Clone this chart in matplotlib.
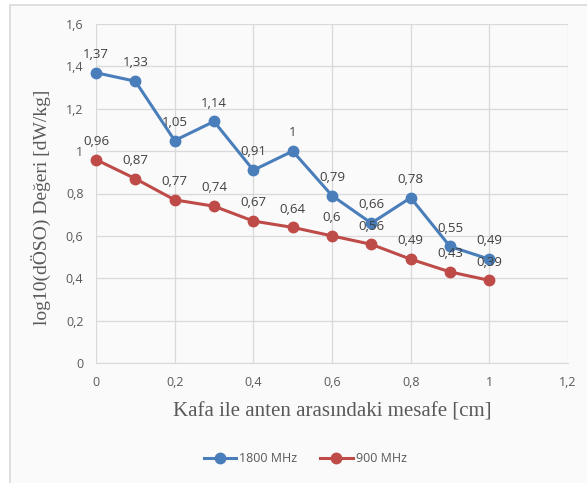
import matplotlib
matplotlib.use('Agg')
import matplotlib.pyplot as plt
from matplotlib.patches import Rectangle
from matplotlib.ticker import FuncFormatter

# mesafe [cm]
mesafe = [0, 0.1, 0.2, 0.3, 0.4, 0.5, 0.6, 0.7, 0.8, 0.9, 1.0]
sar_1800 = [1.37, 1.33, 1.05, 1.14, 0.91, 1.00, 0.79, 0.66, 0.78, 0.55, 0.49]
sar_900 = [0.96, 0.87, 0.77, 0.74, 0.67, 0.64, 0.60, 0.56, 0.49, 0.43, 0.39]
seriler = ['1800 MHz', '900 MHz']
renkler = ['#4a7ebb', '#be4b48']

bg = '#fafafa'
W, H = 587, 483
sans = 'Open Sans'

fig = plt.figure(figsize=(W / 100, H / 100), dpi=100)
fig.patch.set_facecolor('white')
# chart frame
fig.patches.append(Rectangle((10 / W, -0.05), 1.1, 1 - 5 / H + 0.05,
                             transform=fig.transFigure, facecolor=bg,
                             edgecolor='#d9d9d9', linewidth=1.2, zorder=-10))

ax = fig.add_axes([96 / W, 1 - 363 / H, (568 - 96) / W, (363 - 24) / H])
ax.set_facecolor(bg)

virgul = FuncFormatter(lambda v, p: ('%g' % round(v, 2)).replace('.', ','))

for y, ad, renk in zip([sar_1800, sar_900], seriler, renkler):
    ax.plot(mesafe, y, color=renk, lw=2.2, marker='o', ms=7.5, label=ad,
            zorder=3, clip_on=False)
    for xi, yi in zip(mesafe, y):
        ax.annotate(virgul(yi), (xi, yi), xytext=(0, 8.5), textcoords='offset points',
                    ha='center', va='bottom', fontsize=9.5, color='#404040',
                    family=sans, zorder=4)

ax.set_xlim(0, 1.2)
ax.set_ylim(0, 1.6)
ax.set_xticks([0, 0.2, 0.4, 0.6, 0.8, 1.0, 1.2])
ax.set_yticks([0, 0.2, 0.4, 0.6, 0.8, 1.0, 1.2, 1.4, 1.6])
ax.xaxis.set_major_formatter(virgul)
ax.yaxis.set_major_formatter(virgul)
ax.grid(True, color='#d9d9d9', lw=0.9, zorder=0)
ax.set_axisbelow(True)
for s in ['top', 'right', 'left']:
    ax.spines[s].set_visible(False)
ax.spines['bottom'].set_color('#d9d9d9')
ax.tick_params(length=0, labelsize=9, labelcolor='#595959', pad=9)
for lab in ax.get_xticklabels() + ax.get_yticklabels():
    lab.set_family(sans)

ax.set_xlabel('Kafa ile anten arasındaki mesafe [cm]', family='Liberation Serif',
              fontsize=15, color='#595959', labelpad=10)
ax.set_ylabel('log10(dÖSO) Değeri [dW/kg]', family='Liberation Serif',
              fontsize=14, color='#595959')
ax.yaxis.set_label_coords(-0.095, 0.46)

leg = fig.legend(loc='center', bbox_to_anchor=(0.52, 1 - 459 / H), ncol=2,
                 frameon=False, prop={'family': sans, 'size': 9},
                 handlelength=2.6, columnspacing=1.8, handletextpad=0.25)
for t in leg.get_texts():
    t.set_color('#595959')

fig.savefig('out.png', dpi=100, facecolor=fig.get_facecolor())
